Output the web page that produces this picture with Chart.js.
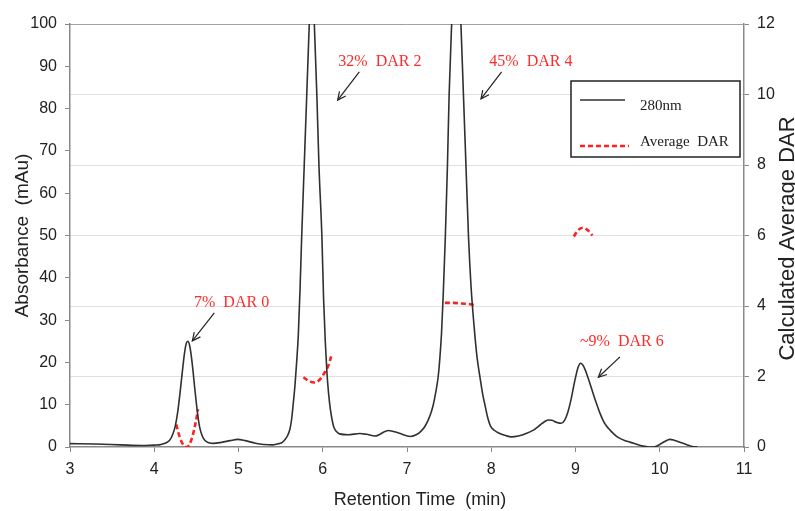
<!DOCTYPE html>
<html>
<head>
<meta charset="utf-8">
<script src="https://cdn.jsdelivr.net/npm/chart.js@4/dist/chart.umd.min.js"></script>
<style>
  html, body { margin: 0; padding: 0; background: #fff; }
  #wrap { width: 795px; height: 511px; }
</style>
</head>
<body>
<div id="wrap"><canvas id="chart" width="795" height="511"></canvas></div>
<script>
// HIC chromatogram at 280 nm (left axis, mAu) against retention time (min)
const timeMin = [
  3.00, 3.30, 3.60, 3.85, 4.00, 4.06, 4.12, 4.16, 4.19, 4.22, 4.25, 4.28, 4.31, 4.34, 4.36, 4.38,
  4.40, 4.42, 4.44, 4.46, 4.48, 4.50, 4.52, 4.54, 4.57, 4.60, 4.65, 4.70, 4.80, 4.90, 4.99, 5.08,
  5.20, 5.30, 5.41, 5.48, 5.52, 5.55, 5.58, 5.61, 5.63, 5.65, 5.67, 5.69, 5.71, 5.73, 5.75, 5.78,
  5.81, 5.84, 5.87, 5.90, 5.93, 5.955, 5.99, 6.01, 6.03, 6.05, 6.07, 6.09, 6.11, 6.13, 6.16, 6.20,
  6.30, 6.44, 6.52, 6.62, 6.78, 6.90, 7.04, 7.12, 7.17, 7.21, 7.25, 7.28, 7.31, 7.34, 7.37, 7.39,
  7.41, 7.43, 7.455, 7.48, 7.50, 7.53, 7.585, 7.64, 7.67, 7.70, 7.73, 7.76, 7.80, 7.83, 7.87, 7.90,
  7.93, 7.96, 7.99, 8.04, 8.10, 8.17, 8.24, 8.32, 8.40, 8.50, 8.58, 8.64, 8.68, 8.72, 8.78, 8.83,
  8.87, 8.91, 8.95, 8.99, 9.03, 9.06, 9.09, 9.12, 9.15, 9.18, 9.21, 9.25, 9.29, 9.33, 9.37, 9.41,
  9.46, 9.51, 9.60, 9.69, 9.80, 9.87, 9.94, 10.00, 10.06, 10.12, 10.17, 10.24, 10.32, 10.40, 10.45
];
const absorbance280 = [
  0.8, 0.7, 0.5, 0.35, 0.45, 0.5, 0.8, 1.2, 1.8, 3.0, 5.0, 8.5, 13.5, 19.0, 22.3, 24.5,
  25.0, 24.0, 21.5, 18.0, 14.0, 10.3, 7.0, 4.6, 2.6, 1.6, 1.0, 0.85, 1.1, 1.5, 1.8, 1.5,
  0.9, 0.6, 0.5, 0.8, 1.1, 1.7, 2.6, 4.2, 6.5, 10.3, 14.5, 20.0, 26.5, 37.0, 49.7, 66.5,
  83.2, 100, 115, 100, 83.2, 66.5, 49.7, 35.0, 25.0, 17.5, 12.5, 9.0, 6.5, 4.8, 3.7, 3.1,
  2.9, 3.2, 3.0, 2.6, 3.9, 3.3, 2.5, 3.0, 3.8, 4.8, 6.3, 7.8, 9.8, 12.8, 16.6, 21.0,
  27.0, 36.0, 49.7, 66.5, 83.2, 100, 125, 100, 83.2, 66.5, 49.7, 38.0, 27.7, 21.5, 16.0, 12.3,
  9.5, 6.8, 5.0, 3.9, 3.2, 2.7, 2.4, 2.6, 3.1, 4.0, 5.2, 6.1, 6.4, 6.3, 5.8, 5.6,
  6.3, 8.3, 11.5, 15.5, 18.8, 19.8, 19.3, 18.0, 16.3, 14.5, 12.6, 10.2, 8.0, 6.2, 4.9, 4.0,
  3.0, 2.2, 1.4, 0.9, 0.2, 0.0, 0.05, 0.6, 1.3, 1.8, 1.6, 1.1, 0.55, 0.08, 0.0
];

// Calculated average DAR across each peak (right axis); null splits the segments
const darTime = [
  4.26, 4.30, 4.33, 4.36, 4.39, 4.42, 4.46, 4.49, 4.52, null,
  5.77, 5.83, 5.90, 5.96, 6.02, 6.07, 6.10, null,
  7.45, 7.55, 7.65, 7.75, 7.82, null,
  8.98, 9.03, 9.09, 9.15, 9.20
];
const averageDar = [
  0.64, 0.30, 0.12, 0.02, 0.00, 0.08, 0.36, 0.68, 1.07, null,
  1.98, 1.88, 1.83, 1.90, 2.10, 2.33, 2.57, null,
  4.09, 4.09, 4.07, 4.05, 4.01, null,
  5.97, 6.15, 6.22, 6.14, 6.00
];

const xTickRange = [3, 11];
const leftTickRange = [0, 100];
const rightTickRange = [0, 12];

// Peak annotations: text anchor and arrow in data units (minutes, mAu)
const peakLabels = ['7%  DAR 0', '32%  DAR 2', '45%  DAR 4', '~9%  DAR 6'];
const labelAt = [[4.472, 34.1], [6.185, 91.1], [7.977, 91.1], [9.053, 24.9]];
const arrowFrom = [[4.713, 31.7], [6.434, 88.7], [8.123, 88.7], [9.528, 21.3]];
const arrowTo = [[4.452, 25.1], [6.177, 82.0], [7.878, 82.3], [9.271, 16.5]];

const toPoints = (xs, ys) => xs.map((x, i) => ({ x: x, y: ys[i] }));

const sansFamily = '"Liberation Sans", Arial, sans-serif';
const sansTick = { family: sansFamily, size: 16 };
const sansTitle = { family: sansFamily, size: 19 };
const serif = '"Liberation Serif", "Times New Roman", serif';
const axisGrey = '#8a8a8a';
const textDark = '#222';

const annotationPlugin = {
  id: 'peakAnnotations',
  afterDatasetsDraw(chart) {
    const { ctx, scales } = chart;
    const px = v => scales.x.getPixelForValue(v);
    const py = v => scales.y.getPixelForValue(v);
    ctx.save();
    peakLabels.forEach((txt, i) => {
      ctx.font = '16px ' + serif;
      ctx.fillStyle = '#ff2b2b';
      ctx.textAlign = 'left';
      ctx.textBaseline = 'middle';
      ctx.fillText(txt, px(labelAt[i][0]), py(labelAt[i][1]));

      const x1 = px(arrowFrom[i][0]), y1 = py(arrowFrom[i][1]);
      const x2 = px(arrowTo[i][0]), y2 = py(arrowTo[i][1]);
      ctx.strokeStyle = '#222';
      ctx.lineWidth = 1.2;
      ctx.beginPath();
      ctx.moveTo(x1, y1);
      ctx.lineTo(x2, y2);
      ctx.stroke();
      const ang = Math.atan2(y2 - y1, x2 - x1);
      const head = 9, spread = 0.45;
      ctx.beginPath();
      ctx.moveTo(x2 - head * Math.cos(ang - spread), y2 - head * Math.sin(ang - spread));
      ctx.lineTo(x2, y2);
      ctx.lineTo(x2 - head * Math.cos(ang + spread), y2 - head * Math.sin(ang + spread));
      ctx.stroke();
    });
    ctx.restore();
  }
};

// Axis titles for the bottom and right axes
const axisTitlePlugin = {
  id: 'axisTitles',
  afterDraw(chart) {
    const { ctx, chartArea } = chart;
    ctx.save();
    ctx.fillStyle = textDark;
    ctx.textAlign = 'center';
    ctx.textBaseline = 'middle';

    ctx.font = '18px ' + sansFamily;
    ctx.fillText('Retention Time  (min)', chartArea.left + 350, 500);

    ctx.translate(788, (chartArea.top + chartArea.bottom) / 2 + 3);
    ctx.rotate(-Math.PI / 2);
    ctx.font = '22px ' + sansFamily;
    ctx.fillText('Calculated Average DAR', 0, 0);
    ctx.restore();
  }
};

const legendBoxPlugin = {
  id: 'legendBox',
  afterDraw(chart) {
    const { ctx, chartArea } = chart;
    const w = 169, h = 76;
    const left = chartArea.right - 4 - w;
    const top = chartArea.top + 57;
    ctx.save();
    ctx.fillStyle = '#fff';
    ctx.fillRect(left, top, w, h);
    ctx.strokeStyle = '#222';
    ctx.lineWidth = 1.5;
    ctx.strokeRect(left, top, w, h);

    ctx.lineWidth = 1.6;
    ctx.strokeStyle = '#303030';
    ctx.beginPath();
    ctx.moveTo(left + 9, top + 19);
    ctx.lineTo(left + 54, top + 19);
    ctx.stroke();

    ctx.strokeStyle = '#ff2020';
    ctx.lineWidth = 2.6;
    ctx.setLineDash([5, 3]);
    ctx.beginPath();
    ctx.moveTo(left + 9, top + 65);
    ctx.lineTo(left + 58, top + 65);
    ctx.stroke();
    ctx.setLineDash([]);

    ctx.font = '15px ' + serif;
    ctx.fillStyle = textDark;
    ctx.textAlign = 'left';
    ctx.textBaseline = 'middle';
    ctx.fillText('280nm', left + 69, top + 25);
    ctx.fillText('Average  DAR', left + 69, top + 61);
    ctx.restore();
  }
};

new Chart(document.getElementById('chart'), {
  type: 'line',
  data: {
    datasets: [
      {
        label: '280nm',
        data: toPoints(timeMin, absorbance280),
        yAxisID: 'y',
        borderColor: '#303030',
        borderWidth: 1.6,
        pointRadius: 0,
        cubicInterpolationMode: 'monotone'
      },
      {
        label: 'Average DAR',
        data: toPoints(darTime, averageDar),
        yAxisID: 'y2',
        borderColor: '#ff2020',
        borderWidth: 2.6,
        borderDash: [5, 3],
        pointRadius: 0,
        cubicInterpolationMode: 'monotone',
        spanGaps: false
      }
    ]
  },
  options: {
    responsive: false,
    animation: false,
    devicePixelRatio: 1,
    layout: { padding: { top: 24, left: 0, right: 0, bottom: 0 } },
    plugins: { legend: { display: false }, tooltip: { enabled: false } },
    scales: {
      x: {
        type: 'linear',
        min: xTickRange[0],
        max: xTickRange[1],
        ticks: { stepSize: 1, font: sansTick, color: textDark, padding: 8 },
        grid: { drawOnChartArea: false, tickLength: 5, color: axisGrey },
        border: { color: axisGrey, width: 1.5 },
        title: { display: false },
        afterFit(s) { s.height = 64; }
      },
      y: {
        position: 'left',
        min: leftTickRange[0],
        max: leftTickRange[1],
        ticks: { stepSize: 10, font: sansTick, color: textDark, padding: 8 },
        grid: { drawOnChartArea: false, tickLength: 5, color: axisGrey },
        border: { color: axisGrey, width: 1.5 },
        title: { display: true, text: 'Absorbance  (mAu)', font: sansTitle, color: textDark, padding: { top: 11, bottom: 0 } },
        afterFit(s) { s.width = 70; }
      },
      y2: {
        position: 'right',
        min: rightTickRange[0],
        max: rightTickRange[1],
        ticks: { stepSize: 2, font: sansTick, color: textDark, padding: 8 },
        grid: {
          drawOnChartArea: true,
          tickLength: 5,
          tickColor: axisGrey,
          color: c => (c.tick && c.tick.value === 12) ? '#a0a0a0' : (c.tick && c.tick.value === 0 ? 'rgba(0,0,0,0)' : '#e0e0e0')
        },
        border: { color: axisGrey, width: 1.5 },
        title: { display: false },
        afterFit(s) { s.width = 51; }
      }
    }
  },
  plugins: [annotationPlugin, axisTitlePlugin, legendBoxPlugin]
});
</script>
</body>
</html>
